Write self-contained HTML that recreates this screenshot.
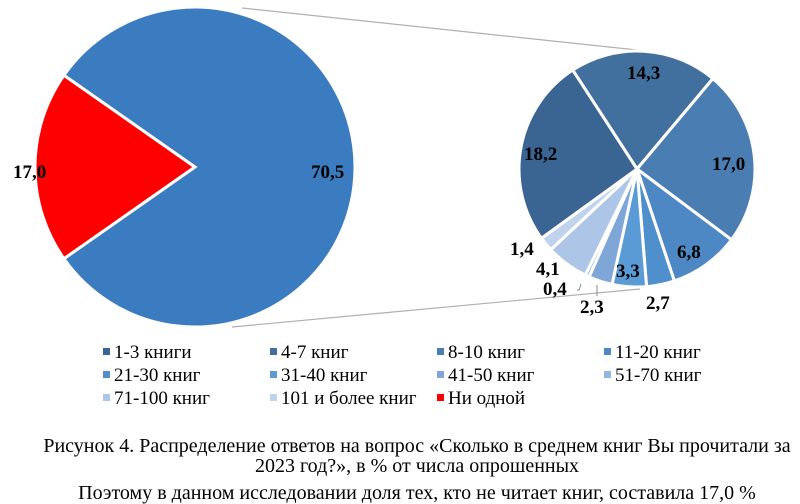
<!DOCTYPE html>
<html><head><meta charset="utf-8"><style>
body{margin:0;background:#fff;width:800px;height:490px;overflow:hidden;font-family:"Liberation Serif",serif;}
svg{position:absolute;left:0;top:0}
.lg{position:absolute;font-size:19px;line-height:20px;color:#000;white-space:nowrap}
.lg i{display:inline-block;width:7px;height:7px;margin-right:4px;vertical-align:3px}
.cap{position:absolute;left:0;width:834px;text-align:center;font-size:20px;line-height:20px;white-space:nowrap}
</style></head><body>
<svg id="s" width="800" height="490" xmlns="http://www.w3.org/2000/svg">
<line x1="242" y1="8" x2="637" y2="50" stroke="#b0b0b0" stroke-width="1.2"/>
<line x1="232" y1="327" x2="640" y2="289" stroke="#b0b0b0" stroke-width="1.2"/>
<g id="g"></g>
<g font-family="Liberation Serif" font-weight="bold" font-size="19" fill="#000">
<text x="13" y="178">17,0</text>
<text x="311" y="178">70,5</text>
<text x="627" y="79">14,3</text>
<text x="524" y="160">18,2</text>
<text x="712" y="170">17,0</text>
<text x="677" y="258">6,8</text>
<text x="616" y="277">3,3</text>
<text x="646" y="309">2,7</text>
<text x="580" y="313">2,3</text>
<text x="543" y="295">0,4</text>
<text x="536" y="275">4,1</text>
<text x="510" y="255">1,4</text>
</g>
<polyline points="577,290 579,290 581,284" fill="none" stroke="#888" stroke-width="1"/>
<line x1="597" y1="285" x2="597" y2="296" stroke="#888" stroke-width="1"/>
</svg>
<div class="lg" style="left:103px;top:343px"><i style="background:#3a6592"></i>1-3 книги</div>
<div class="lg" style="left:270px;top:343px"><i style="background:#42709e"></i>4-7 книг</div>
<div class="lg" style="left:437px;top:343px"><i style="background:#4a7eb2"></i>8-10 книг</div>
<div class="lg" style="left:604px;top:343px"><i style="background:#4d88c4"></i>11-20 книг</div>
<div class="lg" style="left:103px;top:366px"><i style="background:#4f8fcc"></i>21-30 книг</div>
<div class="lg" style="left:270px;top:366px"><i style="background:#5a9bd5"></i>31-40 книг</div>
<div class="lg" style="left:437px;top:366px"><i style="background:#7ea7d8"></i>41-50 книг</div>
<div class="lg" style="left:604px;top:366px"><i style="background:#93b6df"></i>51-70 книг</div>
<div class="lg" style="left:103px;top:389px"><i style="background:#adc5e6"></i>71-100 книг</div>
<div class="lg" style="left:270px;top:389px"><i style="background:#c0d3ed"></i>101 и более книг</div>
<div class="lg" style="left:437px;top:389px"><i style="background:#ff0000"></i>Ни одной</div>
<div class="cap" style="top:436px">Рисунок 4. Распределение ответов на вопрос «Сколько в среднем книг Вы прочитали за</div>
<div class="cap" style="top:456px">2023 год?», в % от числа опрошенных</div>
<div class="cap" style="top:483px">Поэтому в данном исследовании доля тех, кто не читает книг, составила 17,0 %</div>
<script>
var g=document.getElementById('g'),NS='http://www.w3.org/2000/svg';
function arc(cx,cy,r,a0,a1,col){
 var r0=(a0-90)*Math.PI/180,r1=(a1-90)*Math.PI/180;
 var x0=cx+r*Math.cos(r0),y0=cy+r*Math.sin(r0),x1=cx+r*Math.cos(r1),y1=cy+r*Math.sin(r1);
 var p=document.createElementNS(NS,'path');
 p.setAttribute('d','M'+cx+','+cy+'L'+x0+','+y0+'A'+r+','+r+' 0 '+((a1-a0)>180?1:0)+' 1 '+x1+','+y1+'Z');
 p.setAttribute('fill',col);p.setAttribute('stroke','#fff');p.setAttribute('stroke-width','3');
 g.appendChild(p);}
var a=270-35;arc(195,167,160,a,a+70,'#ff0000');arc(195,167,160,a+70,a+360,'#3b7cc0');
var v=[[14.3,'#42709e'],[17.0,'#4a7eb2'],[6.8,'#4d88c4'],[2.7,'#4f8fcc'],[3.3,'#5a9bd5'],[2.3,'#7ea7d8'],[0.4,'#93b6df'],[4.1,'#adc5e6'],[1.4,'#c0d3ed'],[18.2,'#3a6592']];
var s=-33;v.forEach(function(d){var e=s+d[0]/70.5*360;arc(637,169,118,s,e,d[1]);s=e;});
</script>
</body></html>
